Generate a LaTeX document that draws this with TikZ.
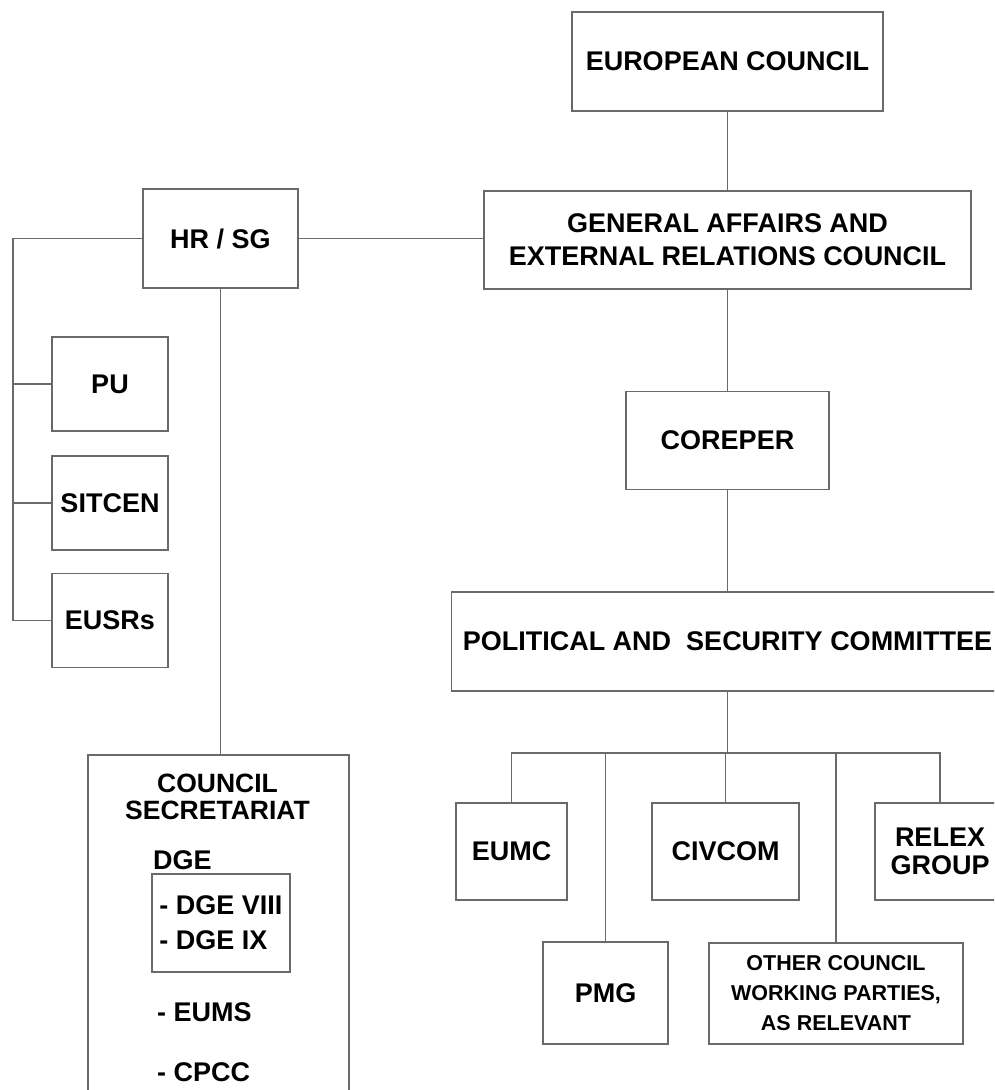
\documentclass[tikz,border=0pt]{standalone}
\usepackage{fontspec}
\setmainfont{Liberation Sans}
\usepackage{tikz}
\usetikzlibrary{positioning}
\definecolor{linegray}{HTML}{6A6A6A}
\tikzstyle{orgbox} = [rectangle, draw=linegray, line width=1.7pt, fill=white, text=black, align=center, font=\bfseries\fontsize{27pt}{30pt}\selectfont]
\tikzstyle{smallbox} = [orgbox, font=\bfseries\fontsize{21.5pt}{30pt}\selectfont]
\tikzstyle{itemtext} = [text=black, inner sep=0pt, font=\bfseries\fontsize{27pt}{30pt}\selectfont]
\tikzstyle{link} = [draw=linegray, line width=1.7pt]

\begin{document}
\begin{tikzpicture}[x=1pt, y=-1pt]
				\path [use as bounding box, fill=white] (0,0) rectangle (994,1090);
				\clip (0,0) rectangle (994,1090);
				
				% Nodes for council chain
				\node (ec) [orgbox, minimum width=311pt, minimum height=99pt] at (727.5,61.5) {EUROPEAN COUNCIL};
				\node (gaerc) [orgbox, below=78pt of ec, minimum width=487pt, minimum height=98pt, font=\bfseries\fontsize{27pt}{33pt}\selectfont] {GENERAL AFFAIRS AND\\EXTERNAL RELATIONS COUNCIL};
				\node (coreper) [orgbox, below=101pt of gaerc, minimum width=203pt, minimum height=98pt] {COREPER};
				\node (psc) [orgbox, below=101pt of coreper, minimum width=552pt, minimum height=99pt] {POLITICAL AND\ \ SECURITY COMMITTEE};
				
				% Nodes for HR / SG side
				\node (hrsg) [orgbox, minimum width=155pt, minimum height=99pt] at (220.5,238.5) {HR / SG};
				\node (pu) [orgbox, minimum width=116pt, minimum height=94pt] at (110,384) {PU};
				\node (sitcen) [orgbox, below=23pt of pu, minimum width=116pt, minimum height=94pt] {SITCEN};
				\node (eusrs) [orgbox, below=22pt of sitcen, minimum width=116pt, minimum height=94pt] {EUSRs};
				
				% Council secretariat
				\node (cs) [orgbox, minimum width=261pt, minimum height=400pt] at (218.5,955) {};
				\node (cstitle) [itemtext, align=center, font=\bfseries\fontsize{26.5pt}{27pt}\selectfont] at (217.5,796.5) {COUNCIL\\SECRETARIAT};
				\node (dge) [itemtext, anchor=west] at (153,860) {DGE};
				\node (dgebox) [orgbox, align=left, minimum width=138pt, minimum height=98pt, font=\bfseries\fontsize{27pt}{35pt}\selectfont] at (221,923) {- DGE VIII\\- DGE IX};
				\node (eums) [itemtext, anchor=west] at (157,1012) {- EUMS};
				\node (cpcc) [itemtext, anchor=west] at (157,1072) {- CPCC};
				
				% Nodes below the committee
				\node (eumc) [orgbox, minimum width=111pt, minimum height=97pt] at (511.5,851.5) {EUMC};
				\node (civcom) [orgbox, minimum width=147pt, minimum height=97pt] at (725.5,851.5) {CIVCOM};
				\node (relex) [orgbox, minimum width=130pt, minimum height=97pt, font=\bfseries\fontsize{27pt}{28pt}\selectfont] at (940,851.5) {RELEX\\GROUP};
				\node (pmg) [orgbox, minimum width=125pt, minimum height=102pt] at (605.5,993) {PMG};
				\node (other) [smallbox, minimum width=254pt, minimum height=101pt] at (836,993.5) {OTHER COUNCIL\\WORKING PARTIES,\\AS RELEVANT};
				
				\coordinate (lbus) at (13,238.5);
				\coordinate (bus) at (728,753);
				
				% Lines of the council chain
				\draw [link] (ec) -- (gaerc);
				\draw [link] (hrsg.east) -- (hrsg.east -| gaerc.west);
				\draw [link] (gaerc) -- (coreper);
				\draw [link] (coreper) -- (psc);
				
				% Lines below the committee
				\draw [link] (psc.south) -- (psc.south |- bus);
				\draw [link] (eumc.north) |- (bus) -| (relex.north);
				\foreach \n in {pmg, civcom, other}
				\draw [link] (\n.north) -- (\n.north |- bus);
				
				% Lines of the HR / SG side
				\draw [link] (hrsg.west) -- (lbus) |- (eusrs.west);
				\draw [link] (lbus |- pu) -- (pu.west);
				\draw [link] (lbus |- sitcen) -- (sitcen.west);
				\draw [link] (hrsg.south) -- (hrsg.south |- cs.north);
				
			\end{tikzpicture}
\end{document}
